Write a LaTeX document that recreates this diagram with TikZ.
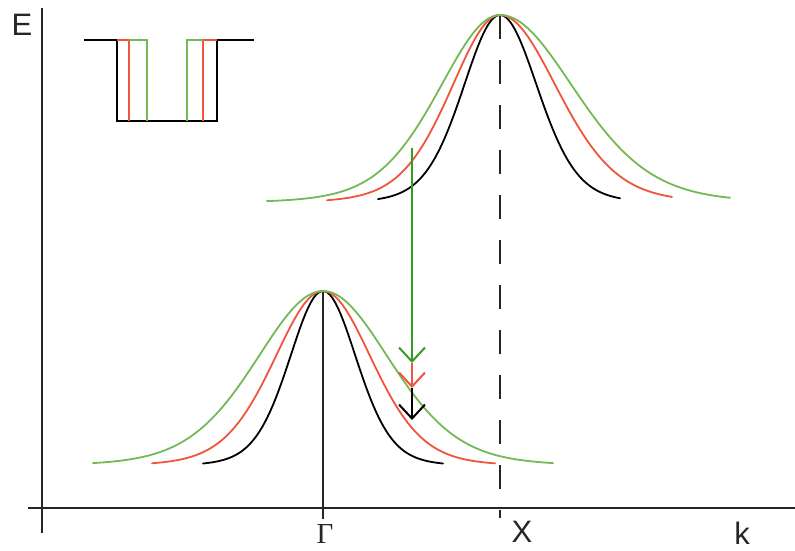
\documentclass[tikz,border=0pt]{standalone}
\usepackage{fontspec}
\setmainfont{Liberation Sans}
\newfontfamily\serifgreek{Liberation Serif}
\usetikzlibrary{arrows.meta}
\definecolor{cgreen}{RGB}{115,185,85}
\definecolor{agreen}{RGB}{55,155,35}
\definecolor{cred}{RGB}{238,85,60}
\begin{document}
\begin{tikzpicture}[x=1pt,y=-1pt,
  declare function={bell(\u)=0.5*exp(-0.693*\u*\u)+0.5/((1+0.26*\u*\u)^3);},
  axis/.style={line width=2pt,black!85},
  curve/.style={line width=1.8pt,line cap=round},
  well/.style={line width=2pt,line join=miter},
  lab/.style={font=\fontsize{31}{34}\selectfont,inner sep=0pt,text=black!85},
  arr/.style={line width=2pt,-{Straight Barb[length=14pt,width=26pt,line width=2pt]}}]
\useasboundingbox (0,0) rectangle (795,551);
% axes
\coordinate (vt) at (42,8);
\coordinate (vb) at (42,533);
\coordinate (hl) at (28,508);
\coordinate (hr) at (795,508);
\draw[axis] (vt) -- (vb);
\draw[axis] (hl) -- (hr);
\coordinate (gtop) at (323,291);
\coordinate (gbot) at (323,519);
\draw[line width=1.8pt,black!85] (gtop) -- (gbot);
\coordinate (xtop) at (500,15);
\coordinate (xbot) at (500,518);
\draw[line width=2pt,black!85,dash pattern=on 24pt off 21pt] (xtop) -- (xbot);
% labels
\node[lab] (E) at (22,25) {E};
\node[lab,font=\fontsize{29}{32}\selectfont] (G) at (325,534) {\serifgreek Γ};
\node[lab] (X) at (522,532) {X};
\node[lab] (k) at (742,533) {k};
% upper band (peak at X)
\draw[curve,black] plot[domain=378:500,samples=60] (\x,{203-188*bell((\x-500)/44)});
\draw[curve,black] plot[domain=500:620,samples=60] (\x,{203-188*bell((\x-500)/45)});
\draw[curve,cred] plot[domain=327:500,samples=70] (\x,{203-188*bell((\x-500)/58)});
\draw[curve,cred] plot[domain=500:672,samples=70] (\x,{203-188*bell((\x-500)/68)});
\draw[curve,cgreen] plot[domain=267:500,samples=80] (\x,{203-188*bell((\x-500)/72)});
\draw[curve,cgreen] plot[domain=500:730,samples=80] (\x,{203-188*bell((\x-500)/88)});
% lower band (peak at Gamma)
\draw[curve,black] plot[domain=203:443,samples=90] (\x,{466-175*bell((\x-323)/40)});
\draw[curve,cred] plot[domain=152:495,samples=100] (\x,{466-175*bell((\x-323)/58)});
\draw[curve,cgreen] plot[domain=93:553,samples=110] (\x,{466-175*bell((\x-323)/79)});
% transition arrows
\coordinate (a0) at (412,148);
\coordinate (a1) at (412,363);
\coordinate (a2) at (412,388);
\coordinate (a3) at (412,420);
\draw[arr,agreen] (a0) -- (a1);
\draw[arr,cred] (a1) -- (a2);
\draw[arr,black] (a2) -- (a3);
% inset: quantum well
\coordinate (w1) at (84,40);
\coordinate (w2) at (117,40);
\coordinate (w3) at (117,121);
\coordinate (w4) at (217,121);
\coordinate (w5) at (217,40);
\coordinate (w6) at (254,40);
\draw[well,black] (w1) -- (w2) -- (w3) -- (w4) -- (w5) -- (w6);
\coordinate (r1) at (129,40);
\coordinate (r2) at (129,121);
\coordinate (r3) at (203,121);
\coordinate (r4) at (203,40);
\draw[line width=1.8pt,cred] (w2) -- (r1) -- (r2);
\draw[line width=1.8pt,cred] (r3) -- (r4) -- (w5);
\coordinate (g1) at (147,40);
\coordinate (g2) at (147,121);
\coordinate (g3) at (187,121);
\coordinate (g4) at (187,40);
\draw[line width=1.8pt,cgreen] (r1) -- (g1) -- (g2);
\draw[line width=1.8pt,cgreen] (g3) -- (g4) -- (r4);
\end{tikzpicture}
\end{document}
